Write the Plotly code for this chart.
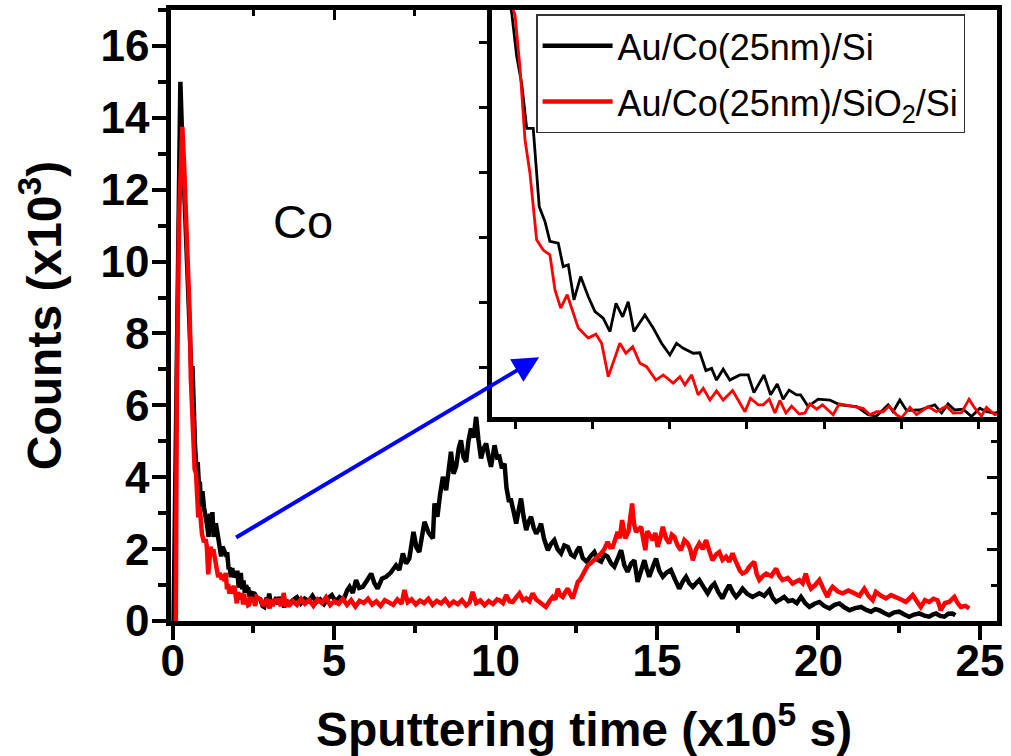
import plotly.graph_objects as go

# ---------------- data (sputtering time in 1e5 s, counts in 1e3) ----------------
time_black = [0.03, 0.24, 0.29, 0.35, 0.42, 0.478,
              0.510, 0.542, 0.575, 0.617, 0.656, 0.693, 0.725, 0.779, 0.811, 0.844,
              0.881, 0.924, 0.973, 1.017, 1.070, 1.114, 1.153, 1.196, 1.232, 1.269,
              1.340, 1.394, 1.448, 1.502, 1.545, 1.586, 1.653, 1.696, 1.735, 1.772,
              1.804, 1.847, 1.890, 1.955, 2.009, 2.046, 2.111, 2.154, 2.197, 2.235,
              2.274, 2.322, 2.348, 2.397, 2.462, 2.538, 2.602, 2.711, 2.786, 2.840,
              2.915, 2.947, 2.991, 3.034, 3.120, 3.217, 3.261, 3.303, 3.347, 3.401,
              3.455, 3.509, 3.552, 3.606,
              3.72, 3.85, 3.97, 4.09, 4.21, 4.33, 4.45, 4.57, 4.69, 4.81, 4.93, 5.05,
              5.17, 5.29, 5.41, 5.48, 5.58, 5.68, 5.78, 5.89, 6.00, 6.15, 6.25, 6.35,
              6.48, 6.61, 6.75, 6.92, 7.02, 7.13, 7.23, 7.33, 7.46, 7.55, 7.64, 7.72,
              7.80, 7.93, 8.06, 8.11, 8.20, 8.28, 8.37, 8.47, 8.55, 8.62, 8.70, 8.78,
              8.86, 8.93, 9.01, 9.09, 9.16, 9.24, 9.32, 9.40, 9.47, 9.55, 9.63, 9.71,
              9.78, 9.86, 9.97, 10.05, 10.12, 10.20, 10.28, 10.34, 10.41, 10.48, 10.56,
              10.64, 10.72, 10.79, 10.87, 10.95, 11.02, 11.10, 11.18, 11.26, 11.34,
              11.41, 11.50, 11.62, 11.72, 11.82, 11.92, 12.03, 12.13, 12.24, 12.34,
              12.44, 12.52, 12.60, 12.70, 12.82, 12.94, 13.06, 13.17, 13.27, 13.37,
              13.47, 13.58, 13.68, 13.79, 13.89, 13.99, 14.09, 14.20, 14.30, 14.40,
              14.50, 14.61, 14.68, 14.76, 14.87, 14.97, 15.07, 15.18, 15.30, 15.43,
              15.56, 15.69, 15.80, 15.90, 16.00, 16.11, 16.21, 16.31, 16.44, 16.57,
              16.68, 16.78, 16.90, 17.03, 17.14, 17.24, 17.35, 17.45, 17.55, 17.65,
              17.80, 17.96, 18.06, 18.17, 18.32, 18.48, 18.58, 18.69, 18.82, 18.94,
              19.07, 19.20, 19.33, 19.46, 19.59, 19.72, 19.88, 20.03, 20.18, 20.34,
              20.50, 20.65, 20.80, 20.96, 21.14, 21.32, 21.48, 21.63, 21.76, 21.88,
              22.04, 22.19, 22.35, 22.50, 22.66, 22.81, 22.96, 23.12, 23.28, 23.43,
              23.54, 23.64, 23.77, 23.90, 24.02, 24.15, 24.24]
counts_black = [0.0, 15.0, 13.6, 12.2, 10.8, 9.69,
                8.69, 8.07, 7.03, 7.03, 5.22, 4.88, 4.42, 4.38, 3.84, 3.88,
                3.07, 3.61, 3.15, 2.80, 2.65, 2.34, 2.99, 2.68, 3.03, 2.34,
                2.72, 2.42, 2.07, 1.80, 2.07, 1.96, 1.84, 1.85, 1.44, 1.49,
                1.22, 1.47, 1.22, 1.34, 1.34, 0.93, 1.34, 0.88, 1.13, 0.78,
                0.99, 0.88, 0.88, 0.61, 0.78, 0.76, 0.65, 0.61, 0.42, 0.39,
                0.65, 0.49, 0.76, 0.52, 0.53, 0.65, 0.46, 0.67, 0.53, 0.55,
                0.38, 0.57, 0.49, 0.46,
                0.58, 0.66, 0.49, 0.62, 0.55, 0.70, 0.52, 0.60, 0.47, 0.63, 0.72, 0.54,
                0.66, 0.58, 0.86, 0.95, 0.78, 1.14, 0.92, 0.95, 1.10, 1.32, 1.05, 0.90,
                1.18, 1.23, 1.34, 1.55, 1.42, 1.88, 1.60, 1.74, 2.48, 2.05, 1.92, 2.40,
                2.76, 2.45, 2.30, 3.27, 2.90, 3.50, 4.01, 3.64, 4.20, 4.71, 4.10, 4.29,
                4.80, 5.03, 4.55, 4.43, 5.00, 5.36, 5.10, 5.68, 5.05, 4.52, 4.80, 4.94,
                4.60, 4.29, 4.89, 4.55, 4.57, 4.25, 4.38, 3.70, 3.36, 3.36, 3.05,
                2.71, 3.10, 3.41, 2.90, 2.53, 2.75, 2.90, 2.60, 2.43, 2.55,
                2.71, 2.30, 1.97, 2.15, 2.25, 2.00, 1.88, 2.10, 2.06, 1.85,
                1.79, 1.95, 2.06, 1.75, 1.65, 1.80, 1.92, 1.70, 1.65, 1.85,
                1.79, 1.60, 1.51, 1.75, 1.97, 1.55, 1.37, 1.60, 1.69, 1.09,
                1.40, 1.69, 1.45, 1.23, 1.50, 1.74, 1.40, 1.23, 1.35, 1.42,
                1.15, 0.90, 1.10, 1.23, 1.05, 0.95, 1.05, 1.14, 0.95, 0.77,
                0.95, 1.04, 0.80, 0.63, 0.85, 1.00, 0.80, 0.67, 0.77, 0.90,
                0.75, 0.67, 0.72, 0.77, 0.70, 0.86, 0.65, 0.53, 0.60, 0.67,
                0.55, 0.58, 0.50, 0.67, 0.50, 0.39, 0.48, 0.53, 0.42, 0.35,
                0.45, 0.49, 0.38, 0.30, 0.36, 0.39, 0.31, 0.26, 0.33, 0.30,
                0.22, 0.16, 0.24, 0.26, 0.18, 0.12, 0.18, 0.21, 0.15, 0.12,
                0.18, 0.21, 0.14, 0.12, 0.20, 0.21, 0.16]

time_red = [0.10, 0.13, 0.20, 0.30, 0.36, 0.42, 0.455, 0.499,
            0.531, 0.564, 0.596, 0.639, 0.682, 0.725, 0.758, 0.795, 0.837, 0.909,
            0.973, 1.023, 1.060, 1.103, 1.178, 1.217, 1.261, 1.308, 1.351, 1.411,
            1.459, 1.523, 1.567, 1.599, 1.643, 1.685, 1.718, 1.761, 1.804, 1.847,
            1.908, 1.988, 2.024, 2.074, 2.106, 2.145, 2.182, 2.214, 2.253, 2.290,
            2.339, 2.376, 2.408, 2.452, 2.490, 2.559, 2.598, 2.753, 2.797, 2.840,
            2.883, 2.922, 2.969, 3.002, 3.056, 3.099, 3.174, 3.228, 3.293, 3.336,
            3.390, 3.439, 3.476, 3.519, 3.552, 3.606,
            3.72, 3.85, 3.98, 4.10, 4.23, 4.36, 4.49, 4.62, 4.75, 4.88, 5.01, 5.14,
            5.27, 5.40, 5.53, 5.66, 5.79, 5.92, 6.05, 6.18, 6.31, 6.44, 6.57, 6.70,
            6.83, 6.96, 7.09, 7.18, 7.28, 7.40, 7.53, 7.66, 7.79, 7.92, 8.05, 8.18,
            8.31, 8.44, 8.57, 8.70, 8.83, 8.96, 9.09, 9.20, 9.29, 9.40, 9.53, 9.66,
            9.79, 9.92, 10.05, 10.12, 10.23, 10.33, 10.43, 10.53, 10.64, 10.74,
            10.85, 10.95, 11.05, 11.15, 11.26, 11.36, 11.46, 11.56, 11.67, 11.77,
            11.85, 11.93, 12.00, 12.08, 12.16, 12.24, 12.31, 12.39, 12.47, 12.55,
            12.62, 12.70, 12.78, 12.86, 12.96, 13.06, 13.17, 13.27, 13.37, 13.47,
            13.55, 13.63, 13.70, 13.78, 13.85, 13.92, 13.97, 14.02, 14.12, 14.23,
            14.29, 14.35, 14.43, 14.51, 14.58, 14.64, 14.70, 14.78, 14.87, 14.95,
            15.02, 15.10, 15.18, 15.28, 15.38, 15.46, 15.54, 15.64, 15.74, 15.85,
            15.95, 16.03, 16.11, 16.21, 16.31, 16.42, 16.52, 16.62, 16.72, 16.83,
            16.93, 17.03, 17.14, 17.24, 17.34, 17.42, 17.50, 17.57, 17.65, 17.76,
            17.86, 18.01, 18.09, 18.17, 18.28, 18.38, 18.54, 18.69, 18.79, 18.89,
            19.05, 19.20, 19.31, 19.41, 19.51, 19.61, 19.69, 19.77, 19.90, 20.03,
            20.15, 20.28, 20.36, 20.44, 20.60, 20.75, 20.93, 21.11, 21.27, 21.42,
            21.55, 21.68, 21.78, 21.94, 22.09, 22.25, 22.40, 22.56, 22.71, 22.82,
            22.92, 23.05, 23.17, 23.30, 23.43, 23.56, 23.69, 23.79, 23.92, 24.05,
            24.13, 24.21, 24.31, 24.41, 24.55, 24.67]
counts_red = [0.0, 6.4, 11.2, 13.75, 12.6, 10.9, 10.05, 9.65,
              8.45, 6.76, 5.99, 4.46, 4.22, 4.11, 3.30, 2.88, 3.19, 2.42,
              2.19, 2.28, 2.07, 1.30, 2.07, 1.84, 1.99, 1.61, 1.53, 1.22,
              1.34, 1.15, 1.30, 1.11, 1.34, 0.88, 1.03, 0.76, 0.97, 0.76,
              0.98, 0.49, 0.80, 0.65, 0.65, 0.78, 0.46, 0.75, 0.46, 0.62,
              0.44, 0.46, 0.67, 0.55, 0.65, 0.42, 0.67, 0.57, 0.42, 0.49,
              0.49, 0.62, 0.42, 0.35, 0.59, 0.42, 0.61, 0.49, 0.62, 0.46,
              0.47, 0.78, 0.57, 0.39, 0.59, 0.42,
              0.55, 0.45, 0.62, 0.48, 0.58, 0.42, 0.60, 0.50, 0.66, 0.44, 0.55, 0.48,
              0.62, 0.45, 0.58, 0.40, 0.56, 0.50, 0.62, 0.46, 0.55, 0.42, 0.58, 0.50,
              0.45, 0.60, 0.48, 0.86, 0.52, 0.60, 0.46, 0.57, 0.50, 0.62, 0.45, 0.56,
              0.49, 0.60, 0.44, 0.54, 0.47, 0.58, 0.43, 0.52, 0.81, 0.50, 0.57, 0.44,
              0.55, 0.47, 0.60, 0.58, 0.50, 0.72, 0.55, 0.53, 0.65, 0.77,
              0.58, 0.63, 0.55, 0.77, 0.60, 0.53, 0.45, 0.39, 0.55, 0.67,
              0.60, 0.90, 0.72, 0.67, 0.80, 0.90, 0.75, 0.63, 0.85, 1.09,
              1.15, 1.28, 1.40, 1.55, 1.62, 1.69, 1.80, 1.88, 2.00, 2.20,
              2.05, 2.06, 2.30, 2.48, 2.30, 2.81, 2.55, 2.30, 2.50, 3.27,
              2.70, 2.48, 2.55, 2.62, 2.25, 1.97, 2.50, 2.40, 2.25, 2.45,
              2.06, 2.30, 2.62, 2.30, 2.16, 2.40, 2.34, 2.10, 1.97, 2.25,
              2.16, 2.00, 1.69, 2.00, 2.16, 2.00, 2.25, 1.95, 1.69, 1.85,
              1.92, 1.70, 1.79, 1.65, 1.88, 1.70, 1.51, 1.40, 1.32, 1.37,
              1.51, 1.65, 1.30, 1.14, 1.25, 1.32, 1.25, 1.46, 1.25, 1.14,
              1.20, 1.04, 1.10, 1.14, 1.05, 1.32, 1.05, 0.90, 1.00, 1.14,
              0.90, 0.67, 0.85, 0.95, 0.82, 0.77, 0.85, 0.77, 0.70, 0.90,
              0.70, 0.58, 0.81, 0.70, 0.63, 0.72, 0.67, 0.60, 0.53, 0.65,
              0.72, 0.55, 0.39, 0.58, 0.53, 0.62, 0.58, 0.30, 0.50, 0.53,
              0.60, 0.67, 0.50, 0.39, 0.42, 0.35]

series_names = ["Au/Co(25nm)/Si", "Au/Co(25nm)/SiO<sub>2</sub>/Si"]
series_colors = ["#000000", "#FF0000"]
main_x_ticks = [0, 5, 10, 15, 20, 25]
main_y_ticks = [0, 2, 4, 6, 8, 10, 12, 14, 16]
x_title = "<b>Sputtering time (x10<sup>5</sup> s)</b>"
y_title = "<b>Counts (x10<sup>3</sup>)</b>"

FONT = "Liberation Sans, Arial, sans-serif"

fig = go.Figure()

# main plot traces
for i, (t, c, name, col) in enumerate([(time_black, counts_black, series_names[0], series_colors[0]),
                                       (time_red, counts_red, series_names[1], series_colors[1])]):
    fig.add_trace(go.Scatter(x=t, y=c, mode="lines", name=name, legendgroup=f"g{i}",
                             line=dict(color=col, width=4.5), xaxis="x", yaxis="y",
                             showlegend=True))
# inset traces (same data, zoomed axes)
for t, c, col in [(time_black, counts_black, series_colors[0]),
                  (time_red, counts_red, series_colors[1])]:
    fig.add_trace(go.Scatter(x=t, y=c, mode="lines", line=dict(color=col, width=2.8),
                             xaxis="x2", yaxis="y2", showlegend=False, hoverinfo="skip"))
# empty trace so the mirror-tick axes are drawn
fig.add_trace(go.Scatter(x=[], y=[], xaxis="x3", yaxis="y3", showlegend=False,
                         hoverinfo="skip"))

axis_line = dict(showline=True, linecolor="black", linewidth=4.5, showgrid=False,
                 zeroline=False, automargin=False)

fig.update_layout(
    width=1011, height=756,
    margin=dict(l=171, r=14, t=10, b=135),
    paper_bgcolor="white", plot_bgcolor="white",
    font=dict(family=FONT, color="black"),
    xaxis=dict(**axis_line, range=[-0.05, 25.53], tickvals=main_x_ticks,
               ticks="outside", ticklen=14, tickwidth=4, tickcolor="black",
               ticklabelstandoff=-17,
               minor=dict(dtick=2.5, tick0=0, ticks="outside", ticklen=7, tickwidth=4,
                          tickcolor="black"),
               tickfont=dict(size=44, family=FONT, weight="bold"),
               mirror=True),
    yaxis=dict(**axis_line, range=[0, 17], tickvals=main_y_ticks,
               ticks="outside", ticklen=14, tickwidth=4, tickcolor="black",
               ticklabelstandoff=-6,
               minor=dict(dtick=1, tick0=0, ticks="outside", ticklen=8, tickwidth=4,
                          tickcolor="black"),
               tickfont=dict(size=44, family=FONT, weight="bold"),
               mirror=True,
               title=dict(text=y_title, font=dict(size=48, family=FONT), standoff=25)),
    xaxis3=dict(overlaying="x", side="top", anchor="y", range=[-0.05, 25.53],
                showline=False, showgrid=False, zeroline=False, showticklabels=False,
                automargin=False,
                tickvals=[5], ticks="inside", ticklen=10, tickwidth=3, tickcolor="black",
                minor=dict(tickvals=[2.5, 7.5], ticks="inside", ticklen=6, tickwidth=3,
                           tickcolor="black")),
    yaxis3=dict(overlaying="y", side="right", anchor="x", range=[0, 17],
                showline=False, showgrid=False, zeroline=False, showticklabels=False,
                automargin=False,
                tickvals=main_y_ticks, ticks="inside", ticklen=10, tickwidth=3,
                tickcolor="black",
                minor=dict(dtick=1, tick0=0, ticks="inside", ticklen=6, tickwidth=3,
                           tickcolor="black")),
    xaxis2=dict(**axis_line, domain=[0.3886, 1.0], anchor="y2", range=[0.35, 3.62],
                dtick=0.5, tick0=0.5, ticks="outside", ticklen=7, tickwidth=3,
                tickcolor="black", showticklabels=False, mirror=True),
    yaxis2=dict(**axis_line, domain=[0.334, 1.0], anchor="x2", range=[0.37, 9.76],
                dtick=1.5, tick0=1.5, ticks="outside", ticklen=8, tickwidth=3,
                tickcolor="black", showticklabels=False, mirror=True),
    legend=dict(x=0.442, y=0.993, xanchor="left", yanchor="top",
                bgcolor="white", bordercolor="#333333", borderwidth=1.5,
                font=dict(size=36, family=FONT, color="black"),
                itemwidth=70, tracegroupgap=6, traceorder="grouped"),
    showlegend=True,
)

# x axis title (placed as a paper annotation so its vertical position can be set)
fig.add_annotation(x=0.5, y=-0.172, xref="paper", yref="paper", text=x_title,
                   showarrow=False, xanchor="center", yanchor="middle",
                   font=dict(size=48, family=FONT, color="black"))
fig.add_annotation(x=4.03, y=11.12, xref="x", yref="y", text="Co", showarrow=False,
                   font=dict(size=47, family=FONT, color="black"))
fig.add_annotation(x=11.35, y=7.34, xref="x", yref="y", ax=1.92, ay=2.30,
                   axref="x", ayref="y", text="", showarrow=True, arrowhead=2,
                   arrowsize=1.3, arrowwidth=4, arrowcolor="#0000FF", standoff=0)

fig.write_html("out.html", config={"displayModeBar": False},
               post_script="document.body.style.margin='0px';")
